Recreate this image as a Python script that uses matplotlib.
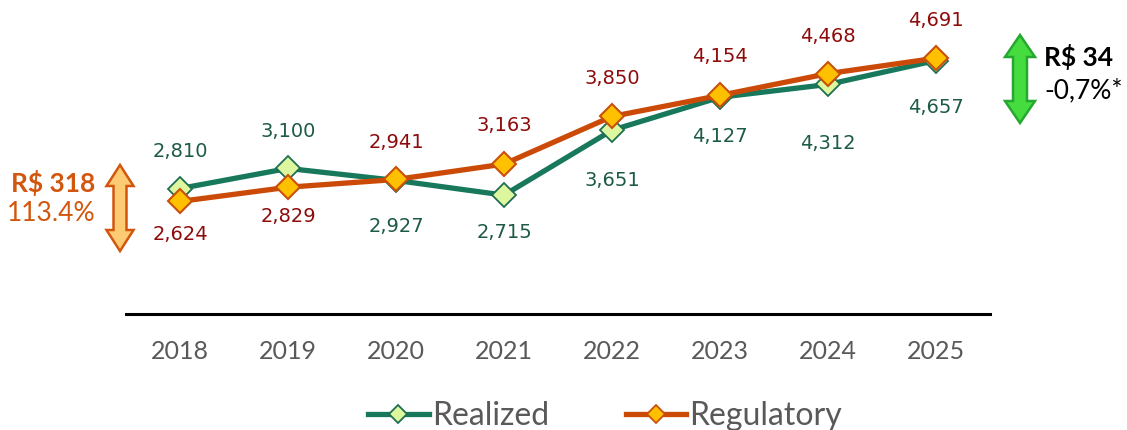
import matplotlib.pyplot as plt
import matplotlib.patches as mpatches
from matplotlib.lines import Line2D

# Data
years = ["2018", "2019", "2020", "2021", "2022", "2023", "2024", "2025"]
realized = [2810, 3100, 2927, 2715, 3651, 4127, 4312, 4657]
regulatory = [2624, 2829, 2941, 3163, 3850, 4154, 4468, 4691]
# label offsets in pixels (+ above the point, - below)
realized_off = [37, 37, -46, -37, -50, -39, -59, -47]
regulatory_off = [-33, -29, 37, 39, 38, 39, 37, 38]

W, H = 1127, 430
GREEN_LINE = "#17785C"
GREEN_FILL = "#DDF79E"
GREEN_EDGE = "#1E6E52"
GREEN_TXT = "#1D5A48"
ORANGE_LINE = "#CC4A08"
ORANGE_FILL = "#FFC000"
ORANGE_EDGE = "#C9500A"
RED_TXT = "#8E0B0B"
GREY_TXT = "#595959"

fig = plt.figure(figsize=(W / 100, H / 100), dpi=100)
ax = fig.add_axes([126 / W, 1 - 314 / H, (990 - 126) / W, 314 / H])

x = list(range(len(years)))
ax.plot(x, realized, color=GREEN_LINE, lw=3.8, marker="D", ms=12,
        mfc=GREEN_FILL, mec=GREEN_EDGE, mew=1.3, zorder=3, label="Realized")
ax.plot(x, regulatory, color=ORANGE_LINE, lw=3.8, marker="D", ms=12.5,
        mfc=ORANGE_FILL, mec=ORANGE_EDGE, mew=1.5, zorder=4, label="Regulatory")

for xi, v, o in zip(x, realized, realized_off):
    ax.annotate(f"{v:,}", (xi, v), xytext=(0, o * 0.72), textcoords="offset points",
                ha="center", va="center", fontsize=14, color=GREEN_TXT,
                family="DejaVu Sans")
for xi, v, o in zip(x, regulatory, regulatory_off):
    ax.annotate(f"{v:,}", (xi, v), xytext=(0, o * 0.72), textcoords="offset points",
                ha="center", va="center", fontsize=14, color=RED_TXT,
                family="DejaVu Sans")

ax.set_xlim(-0.5, 7.5)
ax.set_ylim(1000, 5530)
ax.set_xticks(x)
ax.set_xticklabels(years, fontsize=18, color=GREY_TXT, family="Lato")
ax.tick_params(axis="x", length=0, pad=19)
ax.set_yticks([])
for sp in ["top", "left", "right"]:
    ax.spines[sp].set_visible(False)
ax.spines["bottom"].set_linewidth(2.2)
ax.spines["bottom"].set_color("black")
ax.patch.set_alpha(0)


def double_arrow(cx, top, bottom, shaft, head_w, head_l, fc, ec):
    # vertices in pixels (y from top), converted to figure fraction
    pts = [
        (cx, top), (cx + head_w / 2, top + head_l), (cx + shaft / 2, top + head_l),
        (cx + shaft / 2, bottom - head_l), (cx + head_w / 2, bottom - head_l),
        (cx, bottom), (cx - head_w / 2, bottom - head_l), (cx - shaft / 2, bottom - head_l),
        (cx - shaft / 2, top + head_l), (cx - head_w / 2, top + head_l),
    ]
    pts = [(px / W, 1 - py / H) for px, py in pts]
    fig.patches.append(mpatches.Polygon(pts, closed=True, fc=fc, ec=ec, lw=1.8,
                                        transform=fig.transFigure, zorder=5))


double_arrow(120, 165, 251, 13, 27, 21, "#FDCB73", "#D2560E")
double_arrow(1020, 35, 123, 14, 30, 22, "#45DC40", "#25A830")

fig.text(95 / W, 1 - 183 / H, "R$ 318", ha="right", va="center", fontsize=19,
         fontweight="bold", color="#D2560E", family="Lato")
fig.text(96 / W, 1 - 214 / H, "113.4%", ha="right", va="center", fontsize=19,
         color="#D2560E", family="Lato")
fig.text(1044 / W, 1 - 57 / H, "R$ 34", ha="left", va="center", fontsize=19,
         fontweight="bold", color="black", family="Lato")
fig.text(1044 / W, 1 - 91 / H, "-0,7%*", ha="left", va="center", fontsize=19,
         color="black", family="Lato")

handles = [
    Line2D([], [], color=GREEN_LINE, lw=3.8, marker="D", ms=9, mfc=GREEN_FILL,
           mec=GREEN_EDGE, mew=1.3),
    Line2D([], [], color=ORANGE_LINE, lw=3.8, marker="D", ms=9, mfc=ORANGE_FILL,
           mec=ORANGE_EDGE, mew=1.3),
]
leg = fig.legend(handles, ["Realized", "Regulatory"], loc="center",
                 bbox_to_anchor=(605 / W, 1 - 416 / H), ncol=2, frameon=False,
                 handlelength=1.9, handletextpad=0.1, columnspacing=2.4,
                 prop={"family": "Lato", "size": 23})
for t in leg.get_texts():
    t.set_color(GREY_TXT)

fig.savefig("out.png", dpi=100)
